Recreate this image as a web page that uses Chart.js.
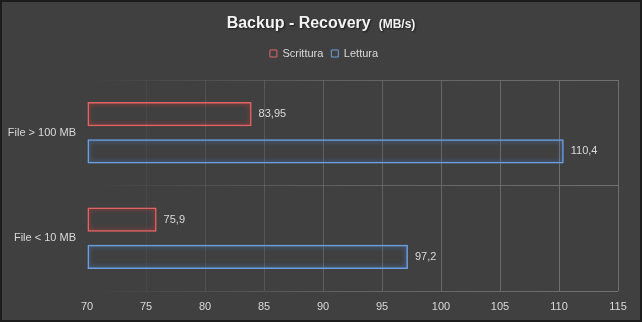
<!DOCTYPE html>
<html>
<head>
<meta charset="utf-8">
<script src="https://cdn.jsdelivr.net/npm/chart.js@4.4.1/dist/chart.umd.min.js"></script>
<style>
  html, body { margin: 0; padding: 0; background: #1e1e1e; }
  #wrap { width: 642px; height: 322px; box-sizing: border-box; border: 2px solid #1c1c1c; background: #404040; }
  canvas { display: block; }
</style>
</head>
<body>
<div id="wrap"><canvas id="c" width="638" height="318"></canvas></div>
<script>
const categories = ['File > 100 MB', 'File < 10 MB'];
const seriesNames = ['Scrittura', 'Lettura'];
const scrittura = [83.95, 75.9];
const lettura = [110.4, 97.2];
const xMin = 70, xMax = 115, xStep = 5;
const titleMain = 'Backup - Recovery';
const titleUnit = '(MB/s)';

const FONT = "'Liberation Sans', Arial, sans-serif";
const TXT = '#d9d9d9';

function gridGradient(ctx) {
  const chart = ctx.chart;
  const a = chart.chartArea;
  if (!a) return 'rgba(110,110,110,0.8)';
  const g = chart.ctx.createLinearGradient(a.left, 0, a.right, 0);
  g.addColorStop(0, 'rgba(110,110,110,0.0)');
  g.addColorStop(0.15, 'rgba(110,110,110,0.25)');
  g.addColorStop(0.5, 'rgba(110,110,110,0.75)');
  g.addColorStop(1, 'rgba(115,115,115,0.95)');
  return g;
}

const titlePlugin = {
  id: 'customTitle',
  afterDraw(chart) {
    const ctx = chart.ctx;
    ctx.save();
    ctx.textBaseline = 'middle';
    ctx.fillStyle = '#f2f2f2';
    ctx.font = 'bold 16px ' + FONT;
    const w1 = ctx.measureText(titleMain).width;
    ctx.font = 'bold 12px ' + FONT;
    const w2 = ctx.measureText(titleUnit).width;
    const gap = 8;
    const total = w1 + gap + w2;
    const x0 = chart.width / 2 - total / 2;
    ctx.shadowColor = 'rgba(0,0,0,0.6)';
    ctx.shadowBlur = 2;
    ctx.shadowOffsetX = 1;
    ctx.shadowOffsetY = 1;
    ctx.font = 'bold 16px ' + FONT;
    ctx.textAlign = 'left';
    ctx.fillText(titleMain, x0, 22);
    ctx.font = 'bold 12px ' + FONT;
    ctx.fillText(titleUnit, x0 + w1 + gap, 23);
    ctx.restore();
  }
};

const glowPlugin = {
  id: 'glow',
  beforeDatasetDraw(chart, args) {
    const ctx = chart.ctx;
    ctx.save();
    ctx.shadowColor = args.index === 0 ? 'rgba(230,60,60,0.9)' : 'rgba(80,140,230,0.9)';
    ctx.shadowBlur = 5;
  },
  afterDatasetDraw(chart) {
    chart.ctx.restore();
  }
};

const labelPlugin = {
  id: 'valueLabels',
  afterDatasetsDraw(chart) {
    const ctx = chart.ctx;
    ctx.save();
    ctx.font = '11px ' + FONT;
    ctx.fillStyle = TXT;
    ctx.textAlign = 'left';
    ctx.textBaseline = 'middle';
    chart.data.datasets.forEach((ds, i) => {
      const meta = chart.getDatasetMeta(i);
      meta.data.forEach((el, j) => {
        const txt = String(ds.data[j]).replace('.', ',');
        ctx.fillText(txt, el.x + 7, el.y);
      });
    });
    ctx.restore();
  }
};

const legendGap = {
  id: 'legendGap',
  beforeInit(chart) {
    const origFit = chart.legend.fit;
    chart.legend.fit = function () {
      origFit.bind(chart.legend)();
      this.height += 11;
    };
  },
  afterLayout(chart) {
    const lg = chart.legend;
    lg.left += 14;
    lg.right += 14;
    if (lg.legendHitBoxes) lg.legendHitBoxes.forEach(h => { h.left += 14; });
  }
};

new Chart(document.getElementById('c'), {
  type: 'bar',
  data: {
    labels: categories,
    datasets: [
      {
        label: seriesNames[0],
        data: scrittura,
        base: xMin,
        backgroundColor: 'rgba(0,0,0,0)',
        borderColor: '#e06464',
        borderWidth: 1.5,
        borderSkipped: false,
        barPercentage: 0.65,
        categoryPercentage: 0.705,
        clip: 8
      },
      {
        label: seriesNames[1],
        data: lettura,
        base: xMin,
        backgroundColor: 'rgba(0,0,0,0)',
        borderColor: '#6c9ee0',
        borderWidth: 1.5,
        borderSkipped: false,
        barPercentage: 0.65,
        categoryPercentage: 0.705,
        clip: 8
      }
    ]
  },
  options: {
    indexAxis: 'y',
    responsive: false,
    animation: false,
    devicePixelRatio: 1,
    layout: { padding: { top: 38, right: 22, left: 0, bottom: 0 } },
    plugins: {
      title: { display: false },
      tooltip: { enabled: false },
      legend: {
        display: true,
        position: 'top',
        labels: {
          color: TXT,
          font: { size: 11, family: FONT },
          boxWidth: 7,
          boxHeight: 7,
          padding: 8,
          generateLabels(chart) {
            return chart.data.datasets.map((ds, i) => ({
              text: ds.label,
              fillStyle: 'rgba(0,0,0,0)',
              strokeStyle: ds.borderColor,
              lineWidth: 1,
              fontColor: TXT,
              datasetIndex: i,
              hidden: false
            }));
          }
        }
      }
    },
    scales: {
      x: {
        type: 'linear',
        min: xMin,
        max: xMax,
        ticks: {
          stepSize: xStep,
          color: TXT,
          font: { size: 11, family: FONT },
          padding: 9
        },
        grid: { color: gridGradient, lineWidth: 1, drawTicks: false },
        border: { display: false },
        afterFit(scale) { scale.height = 29; }
      },
      y: {
        type: 'category',
        ticks: {
          color: TXT,
          font: { size: 11, family: FONT },
          padding: 11
        },
        grid: { color: gridGradient, lineWidth: 1, drawTicks: false, offset: true },
        border: { display: false },
        afterFit(scale) { scale.width = 85; }
      }
    }
  },
  plugins: [legendGap, glowPlugin, labelPlugin, titlePlugin]
});
</script>
</body>
</html>
